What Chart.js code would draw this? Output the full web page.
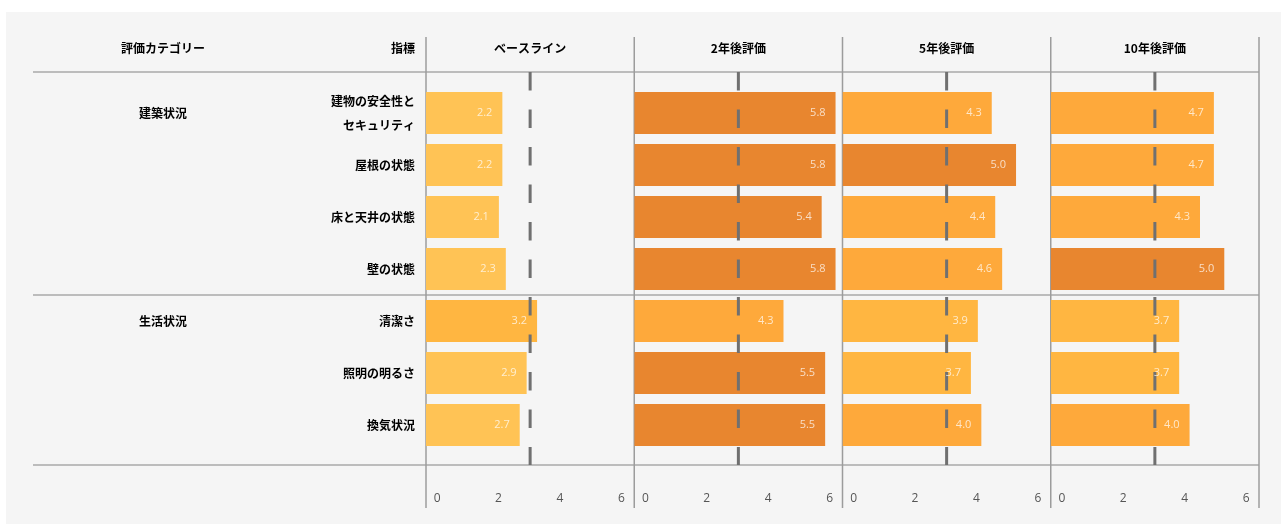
<!DOCTYPE html>
<html lang="ja">
<head>
<meta charset="utf-8">
<title>評価推移</title>
<script src="https://cdn.jsdelivr.net/npm/chart.js@4.4.1/dist/chart.umd.min.js"></script>
<style>
  html, body { margin: 0; padding: 0; background: #fff; }
  canvas { display: block; }
</style>
</head>
<body>
<canvas id="chart" width="1281" height="524"></canvas>
<script>
// 指標（行）と評価カテゴリー
const INDICATORS = [['建物の安全性と', 'セキュリティ'], '屋根の状態', '床と天井の状態', '壁の状態', '清潔さ', '照明の明るさ', '換気状況'];
const GROUPS = ['建築状況', '建築状況', '建築状況', '建築状況', '生活状況', '生活状況', '生活状況'];

// 評価時点（列）
const PERIODS = ['ベースライン', '2年後評価', '5年後評価', '10年後評価'];

// 各時点のスコア
const BASELINE = [2.2, 2.2, 2.1, 2.3, 3.2, 2.9, 2.7];
const YEAR_2 = [5.8, 5.8, 5.4, 5.8, 4.3, 5.5, 5.5];
const YEAR_5 = [4.3, 5.0, 4.4, 4.6, 3.9, 3.7, 4.0];
const YEAR_10 = [4.7, 4.7, 4.3, 5.0, 3.7, 3.7, 4.0];

const X_TICKS = [0, 2, 4, 6];
const TARGET = 3; // 破線（基準値）

const HEAD_LEFT = '評価カテゴリー';
const HEAD_INDICATOR = '指標';

const CJK = '"Noto Sans CJK JP", "Noto Sans", sans-serif';
const LATIN = '"Open Sans", "Noto Sans", sans-serif';

// 目盛ラベル用の軸は少し内側に寄せて表示する
const TICK_AXIS_MIN = -0.36;
const TICK_AXIS_MAX = 6.42;

const SERIES = [BASELINE, YEAR_2, YEAR_5, YEAR_10];

// 値に応じた色（段階）
const colorFor = (v) => {
	if (v >= 5) return '#E8862F';
	if (v >= 4) return '#FEA93B';
	if (v >= 3) return '#FFB641';
	return '#FFC355';
};

const scales = {
	y: {
		type: 'category',
		position: 'left',
		grid: { display: false, drawTicks: false },
		border: { display: false },
		ticks: {
			padding: 11,
			color: '#000',
			font: { family: CJK, size: 12, weight: 'bold', lineHeight: 2 },
		},
		afterFit: (s) => { s.width = 426; },
	},
};

PERIODS.forEach((_, i) => {
	// データ用の軸（表示なし）
	scales['x' + i] = {
		type: 'linear',
		position: 'bottom',
		stack: 'panels',
		min: X_TICKS[0],
		max: X_TICKS[X_TICKS.length - 1],
		grid: { display: false },
		border: { display: false },
		ticks: { display: false },
		afterFit: (s) => { s.height = 0; },
	};
	// 目盛ラベルだけの軸
	scales['t' + i] = {
		type: 'linear',
		position: 'bottom',
		stack: 'ticks',
		min: TICK_AXIS_MIN,
		max: TICK_AXIS_MAX,
		grid: {
			display: true,
			drawOnChartArea: false,
			drawTicks: true,
			tickLength: 40,
			color: 'rgba(0,0,0,0)',
		},
		border: { display: false },
		afterBuildTicks: (s) => { s.ticks = X_TICKS.map((v) => ({ value: v })); },
		ticks: {
			padding: 0,
			color: '#555',
			font: { family: LATIN, size: 12 },
		},
		afterFit: (s) => { s.height = 73; },
	};
});

const datasets = SERIES.map((values, i) => ({
	label: PERIODS[i],
	data: values,
	xAxisID: 'x' + i,
	yAxisID: 'y',
	grouped: false,
	backgroundColor: values.map(colorFor),
	borderWidth: 0,
	barPercentage: 0.81,
	categoryPercentage: 1.0,
}));

// 表の罫線・見出し・ラベル・破線を描く
const tablePlugin = {
	id: 'table',
	beforeDraw(chart) {
		const { ctx } = chart;
		ctx.save();
		ctx.fillStyle = '#F5F5F5';
		ctx.fillRect(6, 12, chart.width - 6, chart.height - 12);
		ctx.restore();
	},
	beforeDatasetsDraw(chart) {
		const { ctx } = chart;
		const y = chart.scales.y;
		const lineTop = 72;
		const lineBottom = 465;
		const left = 33;
		const last = chart.scales['x' + (PERIODS.length - 1)];

		ctx.save();
		// 横罫線
		ctx.strokeStyle = '#a8a8a8';
		ctx.lineWidth = 1.5;
		const rows = [lineTop, lineBottom];
		for (let i = 1; i < GROUPS.length; i++) {
			if (GROUPS[i] !== GROUPS[i - 1]) {
				rows.push((y.getPixelForValue(i - 1) + y.getPixelForValue(i)) / 2);
			}
		}
		rows.forEach((ry) => {
			ctx.beginPath();
			ctx.moveTo(left, ry);
			ctx.lineTo(last.right, ry);
			ctx.stroke();
		});

		// 縦罫線
		ctx.strokeStyle = '#9c9c9c';
		const xs = PERIODS.map((_, i) => chart.scales['x' + i].left);
		xs.push(last.right);
		xs.forEach((vx) => {
			ctx.beginPath();
			ctx.moveTo(vx, 37);
			ctx.lineTo(vx, 508);
			ctx.stroke();
		});

		// 見出し
		ctx.fillStyle = '#000';
		ctx.font = `bold 12px ${CJK}`;
		ctx.textBaseline = 'middle';
		ctx.textAlign = 'center';
		ctx.fillText(HEAD_LEFT, 163, 48);
		PERIODS.forEach((p, i) => {
			const s = chart.scales['x' + i];
			ctx.fillText(p, (s.left + s.right) / 2, 48);
		});
		ctx.textAlign = 'right';
		ctx.fillText(HEAD_INDICATOR, y.right - 11, 48);

		// 評価カテゴリー
		ctx.textAlign = 'center';
		GROUPS.forEach((g, i) => {
			if (i > 0 && GROUPS[i - 1] === g) return;
			ctx.fillText(g, 163, y.getPixelForValue(i));
		});
		ctx.restore();
	},
	afterDatasetsDraw(chart) {
		const { ctx } = chart;
		ctx.save();
		// 基準値の破線
		ctx.strokeStyle = '#707070';
		ctx.lineWidth = 3;
		ctx.setLineDash([18.5, 19]);
		PERIODS.forEach((_, i) => {
			const x = chart.scales['x' + i].getPixelForValue(TARGET);
			ctx.beginPath();
			ctx.moveTo(x, 72);
			ctx.lineTo(x, 465);
			ctx.stroke();
		});
		ctx.setLineDash([]);

		// 値ラベル
		ctx.fillStyle = 'rgba(255,255,255,0.72)';
		ctx.font = `11px ${LATIN}`;
		ctx.textAlign = 'right';
		ctx.textBaseline = 'middle';
		chart.data.datasets.forEach((ds, di) => {
			chart.getDatasetMeta(di).data.forEach((bar, j) => {
				ctx.fillText(ds.data[j].toFixed(1), bar.x - 10, bar.y);
			});
		});
		ctx.restore();
	},
};

new Chart(document.getElementById('chart'), {
	type: 'bar',
	data: { labels: INDICATORS, datasets },
	options: {
		indexAxis: 'y',
		responsive: false,
		animation: false,
		layout: { padding: { left: 0, right: 22, top: 87, bottom: 0 } },
		scales,
		plugins: {
			legend: { display: false },
			tooltip: { enabled: false },
		},
	},
	plugins: [tablePlugin],
});
</script>
</body>
</html>
